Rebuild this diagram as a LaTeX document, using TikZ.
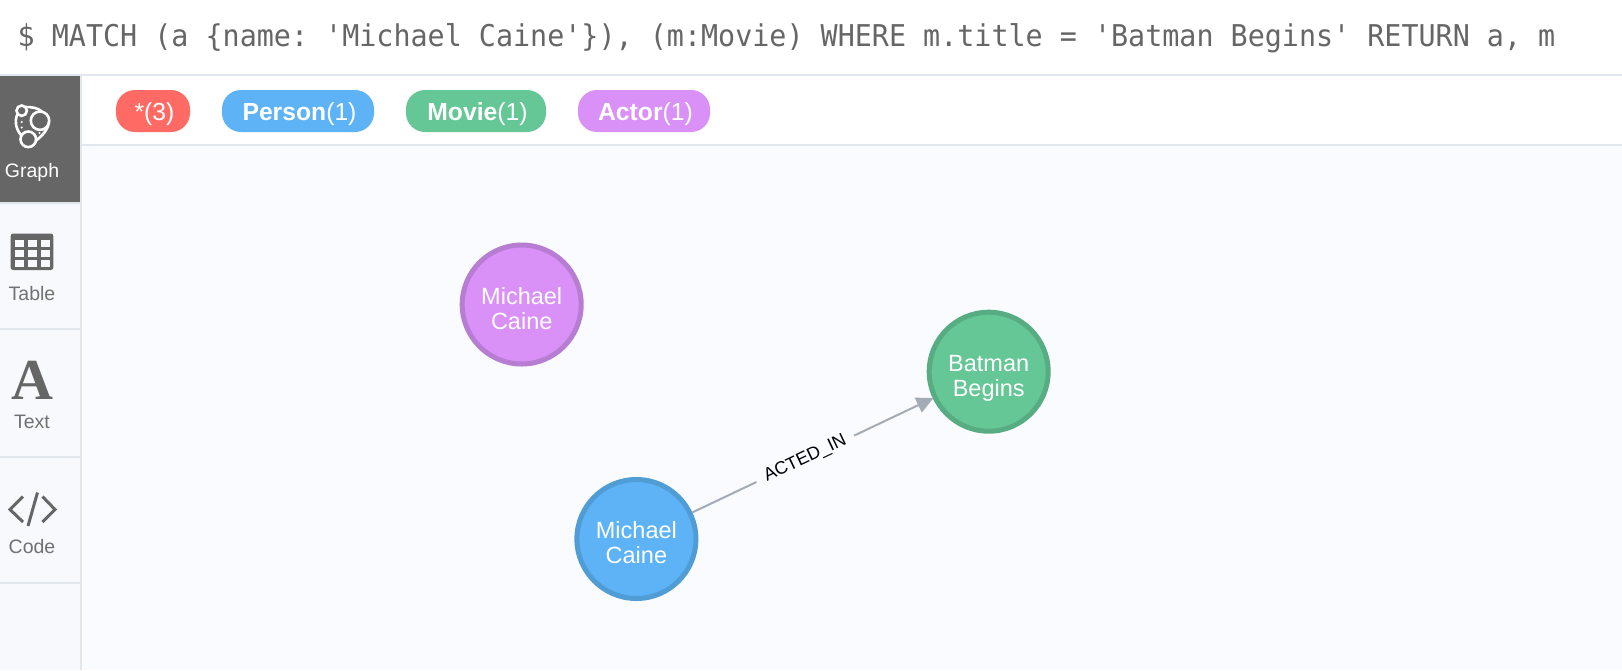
\documentclass[tikz,border=0pt]{standalone}
\usepackage{fontspec}
\setmainfont{Liberation Sans}
\setmonofont[FakeStretch=0.946]{DejaVu Sans Mono}
\newfontfamily\iconfont{Liberation Serif}
\usepackage{tikz}
\usetikzlibrary{arrows.meta}

\definecolor{panelbg}{HTML}{F9FBFE}
\definecolor{sidebg}{HTML}{F7F9FC}
\definecolor{rulecol}{HTML}{E2E7EE}
\definecolor{navdark}{HTML}{666666}
\definecolor{navtext}{HTML}{717171}
\definecolor{redfill}{HTML}{FF6B64}
\definecolor{bluefill}{HTML}{5DB3F5}
\definecolor{blueline}{HTML}{509DD6}
\definecolor{greenfill}{HTML}{64C795}
\definecolor{greenline}{HTML}{58AC82}
\definecolor{purplefill}{HTML}{DA91F7}
\definecolor{purpleline}{HTML}{B77DD2}
\definecolor{edgecol}{HTML}{A5ABB6}

\tikzset{
	pill/.style={rounded corners=19pt,minimum height=42pt,inner sep=0pt,text=white,text height=20pt,text depth=2pt,font=\fontsize{24.7}{24.7}\selectfont,execute at begin node={\hspace*{3pt}}},
	graphnode/.style={circle,line width=5pt,minimum size=119pt,inner sep=0pt},
	nodetext/.style={align=center,text=white,inner sep=0pt,font=\fontsize{23.5}{24.5}\selectfont},
	navlabel/.style={text=navtext,inner sep=0pt,anchor=base,font=\fontsize{19.5}{19.5}\selectfont},
	sep/.style={rulecol,line width=2pt},
	iconline/.style={white,line width=2.6pt}
}

\begin{document}
\begin{tikzpicture}[x=1pt,y=-1pt]
	\useasboundingbox (0,0) rectangle (1622,670);
	\fill [white] (0,0) rectangle (1622,670);
	\fill [panelbg] (82,146) rectangle (1622,670);
	\fill [sidebg] (0,76) rectangle (80,670);
	\fill [navdark] (0,76) rectangle (80,202);
	% rules
	\draw [sep] (0,75) -- (1622,75);
	\draw [sep] (82,145) -- (1622,145);
	\draw [sep] (81,76) -- (81,670);
	\draw [sep] (0,203) -- (80,203);
	\draw [sep] (0,329) -- (80,329);
	\draw [sep] (0,457) -- (80,457);
	\draw [sep] (0,583) -- (80,583);
	% query
	\node [anchor=base west,inner sep=0pt,text=navdark,font=\ttfamily\fontsize{30}{30}\selectfont] (query) at (17.5,46) {\$ MATCH (a \{name: 'Michael Caine'\}), (m:Movie) WHERE m.title = 'Batman Begins' RETURN a, m};
	% legend
	\node [pill,fill=redfill,minimum width=74pt] (allpill) at (153,111) {*(3)};
	\node [pill,fill=bluefill,minimum width=152pt] (personpill) at (298,111) {\textbf{Person}(1)};
	\node [pill,fill=greenfill,minimum width=140pt] (moviepill) at (476,111) {\textbf{Movie}(1)};
	\node [pill,fill=purplefill,minimum width=132pt] (actorpill) at (644,111) {\textbf{Actor}(1)};
	% side icons
	\draw [iconline] (21.7,110.7) circle (5.2);
	\draw [iconline] (40,120.7) circle (9.2);
	\draw [iconline] (28.3,139.3) circle (7.8);
	\draw [iconline] (26,107) .. controls (32,107) and (38,108) .. (42,111.5);
	\draw [iconline] (49,122) .. controls (48,130) and (42,136) .. (35.5,141);
	\draw [iconline] (21,135) .. controls (16,129) and (14,122) .. (17.5,114);
	\fill [white] (21.7,122) circle (1.2);
	\fill [white] (21.7,127.5) circle (1.2);
	\fill [white] (39.5,133) circle (1.2);
	\node [navlabel,text=white] (graphlabel) at (32,177) {Graph};
	\fill [navdark,rounded corners=2.5pt] (10.7,233.5) rectangle (53.3,270);
	\foreach \i in {0,1,2} {
		\foreach \j in {0,1,2} {
			\fill [sidebg] (14.7+13*\i,240+10*\j) rectangle (24+13*\i,247+10*\j);
		}
	}
	\node [navlabel] (tablelabel) at (32,300.3) {Table};
	\node [inner sep=0pt,anchor=base,text=navdark,font=\iconfont\bfseries\fontsize{58}{58}\selectfont] (texticon) at (32,399) {A};
	\node [navlabel] (textlabel) at (32,428) {Text};
	\draw [navdark,line width=3pt] (23,496.5) -- (10,509.5) -- (23,522);
	\draw [navdark,line width=3pt] (37.5,492.5) -- (28,526);
	\draw [navdark,line width=3pt] (42.5,496.5) -- (55,509.5) -- (42.5,522);
	\node [navlabel] (codelabel) at (32,553.5) {Code};
	% graph
	\node [graphnode,fill=purplefill,draw=purpleline] (actornode) at (521.7,304.5) {};
	\node [nodetext] (actortext) at ([yshift=-4pt]actornode.center) {Michael\\Caine};
	\node [graphnode,fill=bluefill,draw=blueline] (personnode) at (636.4,539) {};
	\node [nodetext] (persontext) at ([yshift=-3.8pt]personnode.center) {Michael\\Caine};
	\node [graphnode,fill=greenfill,draw=greenline] (movienode) at (988.7,371.7) {};
	\node [nodetext] (movietext) at ([yshift=-6.5pt]movienode.center) {Batman\\Begins};
	\draw [edgecol,line width=2pt,shorten >=-1pt,-{Triangle[length=17pt,width=16pt]}] (personnode) -- node [pos=0.47,sloped,fill=panelbg,text=black,inner ysep=2pt,inner xsep=0pt,minimum width=108pt,font=\fontsize{18}{18}\selectfont] (actedlabel) {ACTED\_IN} (movienode);
\end{tikzpicture}
\end{document}
